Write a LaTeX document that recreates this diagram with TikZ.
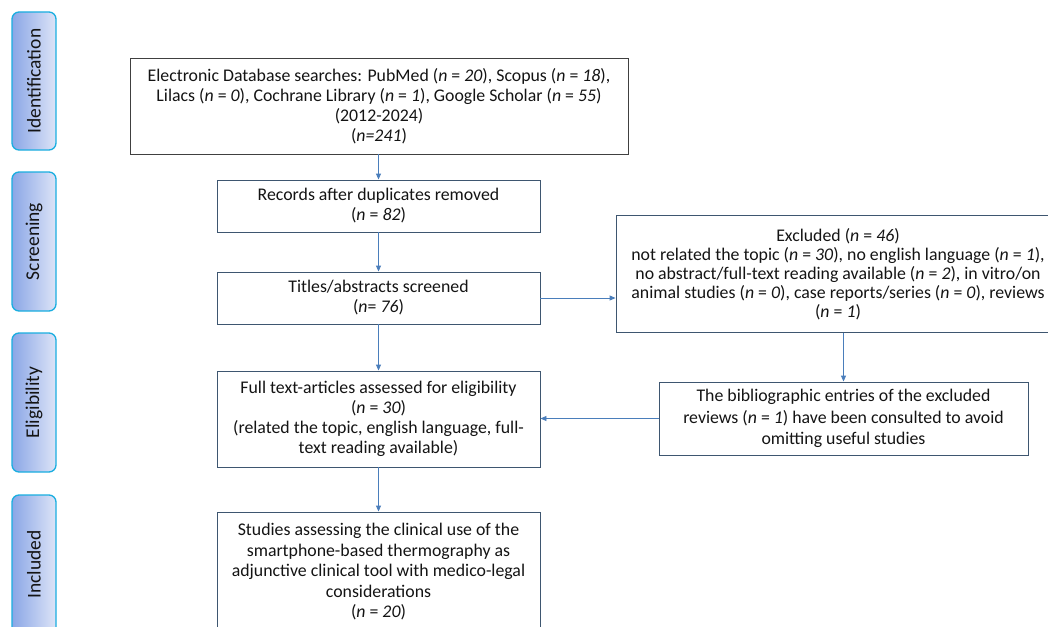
\documentclass[tikz,border=0pt]{standalone}
\usepackage{fontspec}
\setmainfont{Carlito}
\usetikzlibrary{arrows.meta,shadings}
\definecolor{arrblue}{HTML}{4A7EBB}
\definecolor{boxline}{HTML}{3E5670}
\definecolor{stageline}{HTML}{1AAEE0}
\definecolor{stageleft}{HTML}{8AA6E6}
\definecolor{stageright}{HTML}{DDE4F7}
\definecolor{txt}{HTML}{141414}
\tikzset{
  flowbox/.style={draw=boxline, line width=0.9pt, fill=white, rectangle, align=center,
    inner sep=0pt, text=txt, font=\fontsize{17.8}{20}\selectfont},
  stagebox/.style={draw=stageline, line width=1.3pt, rounded corners=7pt, left color=stageleft,
    right color=stageright, minimum width=44pt, inner sep=0pt},
  stagetext/.style={rotate=90, text=txt, font=\fontsize{19.5}{22}\selectfont},
  arr/.style={draw=arrblue, line width=0.9pt, -{Triangle[length=6pt,width=5pt]}},
  link/.style={draw=arrblue, line width=0.9pt}
}
\newcommand{\nn}[1]{(\textit{n} = \textit{#1})}
\begin{document}
\begin{tikzpicture}[x=1pt,y=-1pt]
\clip (0,0) rectangle (1048,626);
\fill[white] (0,0) rectangle (1048,626);
% stage boxes
\node[stagebox, minimum height=138pt] (sid) at (34,81) {};
\node[stagetext] (tid) at (sid.center) {Identification};
\node[stagebox, minimum height=139pt] (ssc) at (34,241.5) {};
\node[stagetext] (tsc) at (ssc.center) {Screening};
\node[stagebox, minimum height=139pt] (sel) at (34,402.5) {};
\node[stagetext] (tel) at (sel.center) {Eligibility};
\node[stagebox, minimum height=139pt] (sin) at (34,564.5) {};
\node[stagetext] (tin) at (sin.center) {Included};
% flow boxes
\node[flowbox, draw=black!75, minimum width=498pt, minimum height=96pt] (db) at (379,106)
 {Electronic Database searches: PubMed \nn{20}, Scopus \nn{18},\\
  Lilacs \nn{0}, Cochrane Library \nn{1}, Google Scholar \nn{55}\\
  (2012-2024)\\
  (\textit{n=241})};
\node[flowbox, minimum width=323pt, minimum height=52pt] (rec) at (378.5,206)
 {Records after duplicates removed\\ \nn{82}};
\node[flowbox, minimum width=323pt, minimum height=52pt] (tit) at (378.5,298)
 {Titles/abstracts screened\\ (\textit{n}= \textit{76})};
\node[flowbox, font=\fontsize{17.8}{19}\selectfont, minimum width=444pt, minimum height=117pt] (exc) at (838,274)
 {Excluded \nn{46}\\
  not related the topic \nn{30}, no english language \nn{1},\\
  no abstract/full-text reading available \nn{2}, in vitro/on\\
  animal studies \nn{0}, case reports/series \nn{0}, reviews\\
  \nn{1}};
\node[flowbox, font=\fontsize{17.8}{21.5}\selectfont, minimum width=369pt, minimum height=73pt] (bib) at (843.5,418.5)
 {The bibliographic entries of the excluded\\
  reviews \nn{1} have been consulted to avoid\\
  omitting useful studies};
\node[flowbox, minimum width=323pt, minimum height=96pt] (full) at (378.5,419)
 {Full text-articles assessed for eligibility\\
  \nn{30}\\
  (related the topic, english language, full-\\
  text reading available)};
\node[flowbox, font=\fontsize{17.8}{20.5}\selectfont, minimum width=323pt, minimum height=120pt] (stud) at (378.5,572)
 {Studies assessing the clinical use of the\\
  smartphone-based thermography as\\
  adjunctive clinical tool with medico-legal\\
  considerations\\
  \nn{20}};
% connectors
\draw[arr] (db.south -| rec.north) -- (rec.north);
\draw[arr] (rec.south) -- (tit.north);
\draw[arr] (tit.east) -- (exc.west |- tit.east);
\draw[arr] (tit.south) -- (full.north);
\draw[arr] (exc.south -| bib.north) -- (bib.north);
\draw[arr] (bib.west) -- (full.east |- bib.west);
\draw[arr] (full.south) -- (stud.north);
\end{tikzpicture}
\end{document}
